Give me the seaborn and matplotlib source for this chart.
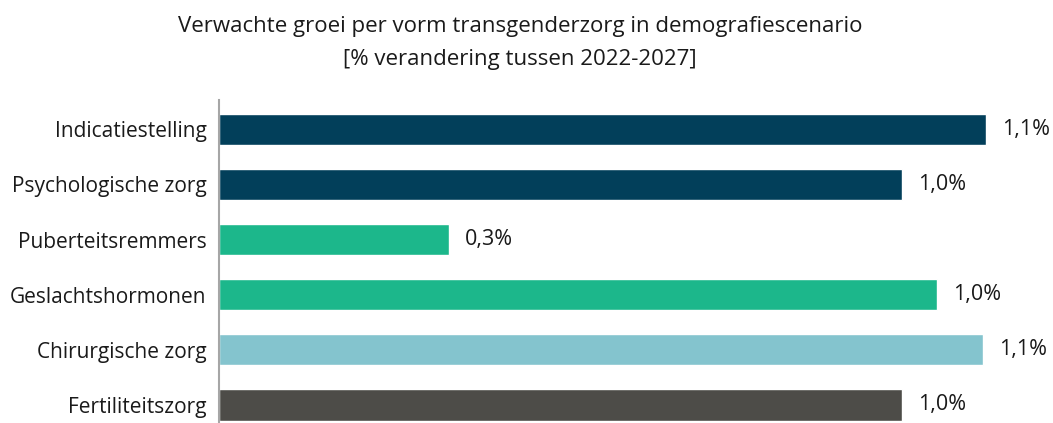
import matplotlib
matplotlib.use("Agg")
import matplotlib.pyplot as plt
import seaborn as sns
import pandas as pd

# data
categories = ["Indicatiestelling", "Psychologische zorg", "Puberteitsremmers",
              "Geslachtshormonen", "Chirurgische zorg", "Fertiliteitszorg"]
values = [1.10, 0.98, 0.33, 1.03, 1.096, 0.98]
colors = ["#023f5a", "#023f5a", "#1cb78b", "#1cb78b", "#84c4ce", "#4d4c48"]

df = pd.DataFrame({"vorm": categories, "groei": values})

sns.set_style("white")
plt.rcParams["font.family"] = ["Open Sans", "DejaVu Sans"]

fig = plt.figure(figsize=(10.53, 4.23), dpi=100)
ax = fig.add_axes([0.208, 0.0, 0.792, 0.764])

sns.barplot(data=df, y="vorm", x="groei", hue="vorm", palette=colors,
            orient="h", width=0.57, legend=False, ax=ax, saturation=1)

ax.set_xlim(0, 1.196)
ax.set_ylim(5.33, -0.535)

# value labels
for i, v in enumerate(values):
    ax.annotate(f"{v:.1f}%".replace(".", ","), xy=(v, i), xytext=(11.5, 0),
                textcoords="offset points", va="center", ha="left",
                fontsize=15.5, color="#1a1a1a")

ax.set_xlabel("")
ax.set_ylabel("")
ax.set_xticks([])
ax.tick_params(axis="y", length=0, pad=9, labelsize=15, labelcolor="#1a1a1a")
for s in ["top", "right", "bottom"]:
    ax.spines[s].set_visible(False)
ax.spines["left"].set_color("#a6a6a6")
ax.spines["left"].set_linewidth(1.5)

fig.text(0.494, 0.898, "Verwachte groei per vorm transgenderzorg in demografiescenario\n"
         "[% verandering tussen 2022-2027]", ha="center", va="center",
         fontsize=16, linespacing=1.75, color="#1a1a1a")

fig.savefig("out.png", dpi=100)
